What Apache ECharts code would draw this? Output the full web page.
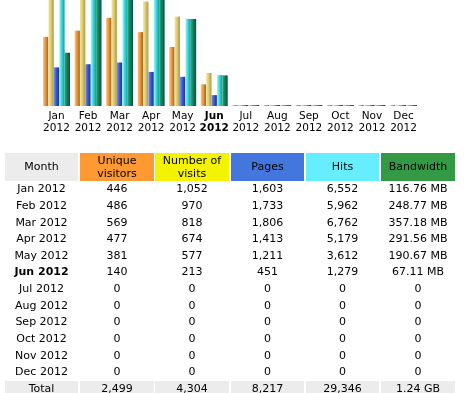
<!DOCTYPE html>
<html>
<head>
<meta charset="utf-8">
<script src="https://cdn.jsdelivr.net/npm/echarts@6/dist/echarts.min.js"></script>
<style>
html,body{margin:0;padding:0;background:#fff;}
#c{width:472px;height:393px;}
</style>
</head>
<body>
<div id="c"></div>
<script>
const months = ['Jan','Feb','Mar','Apr','May','Jun','Jul','Aug','Sep','Oct','Nov','Dec'];
const year = '2012';
const currentMonthIndex = 5;
const uniqueVisitors = [446, 486, 569, 477, 381, 140, 0, 0, 0, 0, 0, 0];
const visits = [1052, 970, 818, 674, 577, 213, 0, 0, 0, 0, 0, 0];
const pages = [1603, 1733, 1806, 1413, 1211, 451, 0, 0, 0, 0, 0, 0];
const hits = [6552, 5962, 6762, 5179, 3612, 1279, 0, 0, 0, 0, 0, 0];
const bandwidthMB = [116.76, 248.77, 357.18, 291.56, 190.67, 67.11, 0, 0, 0, 0, 0, 0];
const headers = ['Month', 'Unique\nvisitors', 'Number of\nvisits', 'Pages', 'Hits', 'Bandwidth'];
const totals = ['Total', '2,499', '4,304', '8,217', '29,346', '1.24 GB'];

function fmt(n){ return String(n).replace(/\B(?=(\d{3})+(?!\d))/g, ','); }
function fmtBw(v){ return v === 0 ? '0' : v.toFixed(2) + ' MB'; }

const chart = echarts.init(document.getElementById('c'), null, {renderer:'canvas'});

function grad(c1, c2, c3){
  return new echarts.graphic.LinearGradient(0,0,1,0,[
    {offset:0,color:c1},{offset:0.45,color:c2},{offset:1,color:c3}
  ]);
}
const barColors = [
  grad('#f6cc94','#e6983e','#b0600f'),
  grad('#f4eaa8','#dccb74','#b09a3a'),
  grad('#7896ea','#3a5ad2','#1a2e9c'),
  grad('#a8fafa','#3cd8d8','#0e9a9a'),
  grad('#2ea884','#12805e','#025638')
];

// the reference chart is cropped: only the lower part of the full 163px bar range is visible
const fullBarHeight = 163, visibleHeight = 106;
const visibleFraction = visibleHeight / fullBarHeight;

const seriesData = [uniqueVisitors, visits, pages, hits, bandwidthMB];
const yIdx = [0, 0, 1, 1, 2];
const series = seriesData.map((d, i) => ({
  type: 'bar',
  data: d,
  yAxisIndex: yIdx[i],
  barWidth: 5.4,
  barGap: '0%',
  barMinHeight: 1,
  clip: true,
  itemStyle: {color: barColors[i]},
  silent: true,
  animation: false
}));

// table graphics
const colLeft = [5, 80, 155, 231, 306, 381];
const colW = [73, 74, 74, 73, 73, 74];
const headColors = ['#ececec', '#ff9933', '#f3f300', '#4477dd', '#66eeff', '#339944'];
const headTop = 153, headH = 28;
const rowY0 = 189.5, rowPitch = 16.62;
const font = '"DejaVu Sans", Verdana, sans-serif';
const graphics = [];
function cx(i){ return colLeft[i] + colW[i]/2; }
headers.forEach((h, i) => {
  graphics.push({type:'rect', shape:{x:colLeft[i], y:headTop, width:colW[i], height:headH}, style:{fill:headColors[i]}, silent:true});
  graphics.push({type:'text', x:cx(i), y:headTop + headH/2 + 0.5, style:{text:h, fill:'#000', font:'11px ' + font, align:'center', verticalAlign:'middle', lineHeight:13}, silent:true});
});
months.forEach((m, r) => {
  const y = rowY0 + r*rowPitch;
  const row = [m + ' ' + year, fmt(uniqueVisitors[r]), fmt(visits[r]), fmt(pages[r]), fmt(hits[r]), fmtBw(bandwidthMB[r])];
  row.forEach((t, i) => {
    const bold = (i === 0 && r === currentMonthIndex);
    graphics.push({type:'text', x:cx(i), y:y, style:{text:t, fill:'#000', font:(bold?'bold ':'') + '11px ' + font, align:'center', verticalAlign:'middle'}, silent:true});
  });
});
const totTop = 381;
totals.forEach((t, i) => {
  graphics.push({type:'rect', shape:{x:colLeft[i], y:totTop, width:colW[i], height:16}, style:{fill:'#ececec'}, silent:true});
  graphics.push({type:'text', x:cx(i), y:totTop + 8, style:{text:t, fill:'#000', font:'11px ' + font, align:'center', verticalAlign:'middle'}, silent:true});
});

chart.setOption({
  animation: false,
  backgroundColor: '#ffffff',
  grid: {left: 40.7, width: 378.6, top: 0, height: visibleHeight, containLabel: false},
  xAxis: {
    type: 'category',
    data: months,
    axisLine: {show:false},
    axisTick: {show:false},
    splitLine: {show:false},
    axisLabel: {
      interval: 0,
      margin: 4,
      formatter: (v, idx) => idx === currentMonthIndex ? '{b|' + v + '}\n{b|' + year + '}' : '{n|' + v + '}\n{n|' + year + '}',
      rich: {
        n: {fontFamily: font, fontSize: 10.5, color:'#000', lineHeight: 12.5},
        b: {fontFamily: font, fontSize: 10.5, color:'#000', fontWeight:'bold', lineHeight: 12.5}
      }
    }
  },
  yAxis: [
    {type:'value', min:0, max:Math.max(...visits) * visibleFraction, show:false, splitLine:{show:false}},
    {type:'value', min:0, max:Math.max(...hits) * visibleFraction, show:false, splitLine:{show:false}},
    {type:'value', min:0, max:Math.max(...bandwidthMB) * visibleFraction, show:false, splitLine:{show:false}}
  ],
  series: series,
  graphic: graphics
});
</script>
</body>
</html>
